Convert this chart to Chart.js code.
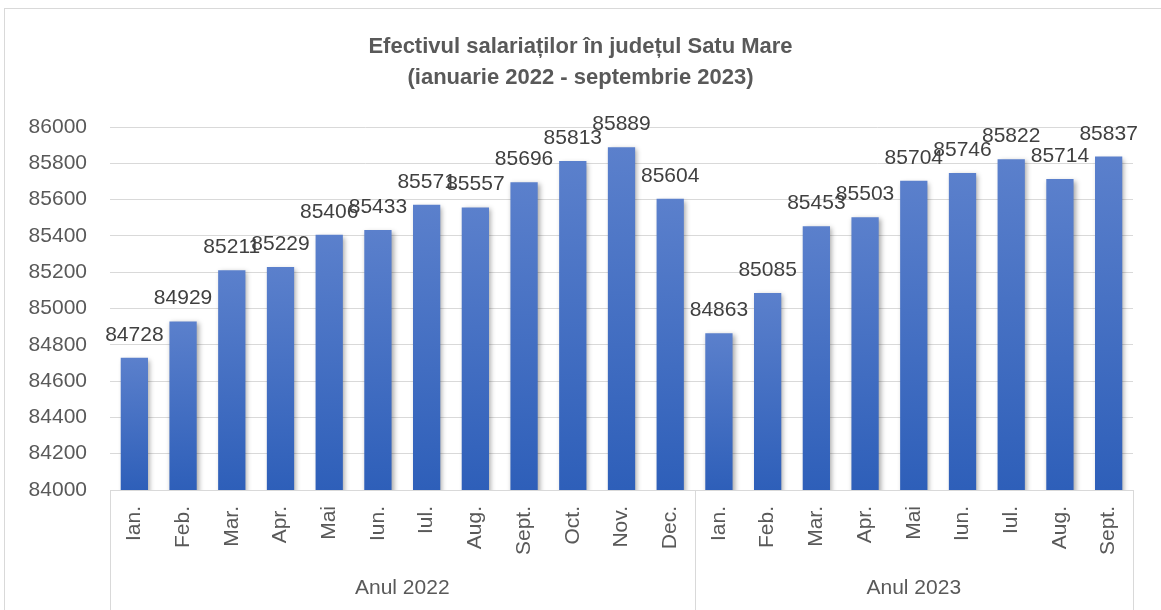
<!DOCTYPE html>
<html>
<head>
<meta charset="utf-8">
<script src="https://cdn.jsdelivr.net/npm/chart.js@4/dist/chart.umd.min.js"></script>
<style>
  html, body { margin: 0; padding: 0; background: #fff; overflow: hidden; }
  #wrap { width: 1161px; height: 610px; position: relative; }
</style>
</head>
<body>
<div id="wrap"><canvas id="chartCanvas"></canvas></div>
<script>
// Data
const months2022 = ['Ian.', 'Feb.', 'Mar.', 'Apr.', 'Mai', 'Iun.', 'Iul.', 'Aug.', 'Sept.', 'Oct.', 'Nov.', 'Dec.'];
const months2023 = ['Ian.', 'Feb.', 'Mar.', 'Apr.', 'Mai', 'Iun.', 'Iul.', 'Aug.', 'Sept.'];
const values2022 = [84728, 84929, 85211, 85229, 85406, 85433, 85571, 85557, 85696, 85813, 85889, 85604];
const values2023 = [84863, 85085, 85453, 85503, 85704, 85746, 85822, 85714, 85837];
const groupNames = ['Anul 2022', 'Anul 2023'];
const yTicks = { min: 84000, max: 86000, step: 200 };
const titleLines = ['Efectivul salariaților în județul Satu Mare', '(ianuarie 2022 - septembrie 2023)'];

const labels = months2022.concat(months2023);
const values = values2022.concat(values2023);
const groupSizes = [months2022.length, months2023.length];

const FONT = "'Liberation Sans', Arial, sans-serif";
const lineCol = '#d9d9d9';

// per-bar vertical gradient, lighter at the top
function barFill(ctx) {
  const chart = ctx.chart;
  const area = chart.chartArea;
  const y = chart.scales.y;
  if (!area || !y || ctx.raw == null) return '#4472c4';
  const top = y.getPixelForValue(ctx.raw);
  const g = chart.ctx.createLinearGradient(0, top, 0, area.bottom);
  g.addColorStop(0, '#5b80cc');
  g.addColorStop(1, '#2e5fb9');
  return g;
}

// title, frame, group labels, separators
const decor = {
  id: 'decor',
  beforeDraw(chart) {
    const c = chart.ctx;
    c.save();
    c.strokeStyle = lineCol;
    c.lineWidth = 1;
    c.strokeRect(4.5, 8.5, chart.width, chart.height);
    c.restore();
  },
  afterDraw(chart) {
    const c = chart.ctx;
    const x = chart.scales.x;
    const area = chart.chartArea;
    c.save();
    c.fillStyle = '#595959';
    c.font = 'bold 22px ' + FONT;
    c.textAlign = 'center';
    c.textBaseline = 'middle';
    c.fillText(titleLines[0], chart.width / 2, 47);
    c.fillText(titleLines[1], chart.width / 2, 78);

    // group separators and names
    const half = (x.getPixelForValue(1) - x.getPixelForValue(0)) / 2;
    let start = 0;
    const edges = [x.getPixelForValue(0) - half];
    c.font = '21px ' + FONT;
    groupSizes.forEach((n, i) => {
      const left = x.getPixelForValue(start) - half;
      const right = x.getPixelForValue(start + n - 1) + half;
      edges.push(right);
      c.fillText(groupNames[i], (left + right) / 2, 588);
      start += n;
    });
    c.strokeStyle = lineCol;
    c.lineWidth = 1;
    edges.forEach(e => {
      const px = Math.round(e) + 0.5;
      c.beginPath();
      c.moveTo(px, area.bottom);
      c.lineTo(px, chart.height);
      c.stroke();
    });
    c.restore();
  }
};

// soft shadow under bars, and value labels above them
const barStyle = {
  id: 'barStyle',
  beforeDatasetsDraw(chart) {
    const c = chart.ctx;
    c.save();
    c.shadowColor = 'rgba(0,0,0,0.35)';
    c.shadowBlur = 5;
    c.shadowOffsetX = 2;
    c.shadowOffsetY = 2;
  },
  afterDatasetsDraw(chart) {
    const c = chart.ctx;
    c.restore();
    c.save();
    c.fillStyle = '#404040';
    c.font = '21px ' + FONT;
    c.textAlign = 'center';
    c.textBaseline = 'alphabetic';
    chart.getDatasetMeta(0).data.forEach((bar, i) => {
      c.fillText(String(values[i]), bar.x, bar.y - 17);
    });
    c.restore();
  }
};

new Chart(document.getElementById('chartCanvas').getContext('2d'), {
  type: 'bar',
  data: {
    labels: labels,
    datasets: [{
      data: values,
      backgroundColor: barFill,
      barPercentage: 0.56,
      categoryPercentage: 1
    }]
  },
  options: {
    responsive: true,
    maintainAspectRatio: false,
    animation: false,
    layout: { padding: { top: 127, right: 28, left: 0, bottom: 0 } },
    plugins: {
      legend: { display: false },
      title: { display: false },
      tooltip: { enabled: false }
    },
    scales: {
      x: {
        grid: { display: false, drawTicks: false },
        border: { color: lineCol },
        ticks: {
          autoSkip: false,
          minRotation: 90,
          maxRotation: 90,
          padding: 16,
          color: '#595959',
          font: { family: FONT, size: 21 }
        },
        afterFit(scale) { scale.height = 120; }
      },
      y: {
        min: yTicks.min,
        max: yTicks.max,
        grid: { color: lineCol, drawTicks: false },
        border: { display: false },
        ticks: {
          stepSize: yTicks.step,
          padding: 23,
          color: '#595959',
          font: { family: FONT, size: 21 },
          callback: v => String(v)
        },
        afterFit(scale) { scale.width = 110; }
      }
    }
  },
  plugins: [decor, barStyle]
});
</script>
</body>
</html>
